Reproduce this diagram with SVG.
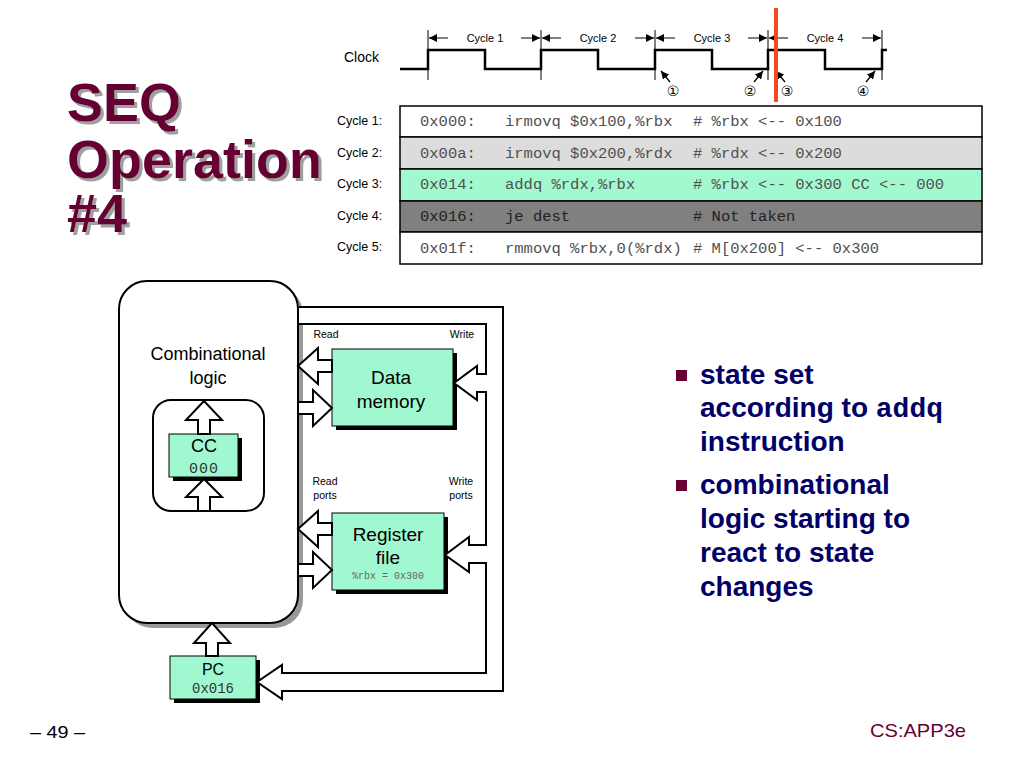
<svg xmlns="http://www.w3.org/2000/svg" width="1024" height="767" viewBox="0 0 1024 767">
<style>
.sans{font-family:"Liberation Sans",Arial,sans-serif}
.mono{font-family:"Liberation Mono","Courier New",monospace}
.title{font-family:"Liberation Sans",Arial,sans-serif;font-weight:bold;font-size:54px;fill:#660033}
.cyc{font-family:"Liberation Sans",Arial,sans-serif;font-size:11px;fill:#000}
.rowlbl{font-family:"Liberation Sans",Arial,sans-serif;font-size:12.5px;fill:#000}
.code{font-family:"Liberation Mono","Courier New",monospace;font-size:15.5px;fill:#505050}
.blk{fill:#fff;stroke:#000;stroke-width:2;stroke-linejoin:miter}
.state{fill:#a0f8d0;stroke:#000;stroke-width:1}
.shadow{fill:#000}
.port{font-family:"Liberation Sans",Arial,sans-serif;font-size:10.5px;fill:#000}
.bullet{font-family:"Liberation Sans",Arial,sans-serif;font-weight:bold;font-size:28px;fill:#000066}
.bmono{font-family:"Liberation Mono","Courier New",monospace;font-weight:bold;font-size:28px}
</style>
<defs>
<marker id="ah" viewBox="0 0 10 10" refX="10" refY="5" markerWidth="8" markerHeight="8" markerUnits="userSpaceOnUse" orient="auto">
<path d="M0,0 L10,5 L0,10 z" fill="#000"/>
</marker>
<filter id="tshadow" x="-5%" y="-5%" width="115%" height="115%">
<feOffset in="SourceAlpha" dx="3" dy="3" result="off"/>
<feFlood flood-color="#a0a0a0"/>
<feComposite in2="off" operator="in" result="sh"/>
<feMerge><feMergeNode in="sh"/><feMergeNode in="SourceGraphic"/></feMerge>
</filter>
</defs>
<rect width="1024" height="767" fill="#fff"/>

<!-- Title -->
<g id="title" filter="url(#tshadow)">
<text class="title"><tspan x="67" y="121">SEQ</tspan><tspan x="67" y="178">Operation</tspan><tspan x="67" y="232">#4</tspan></text>
</g>

<!-- Clock -->
<g id="clock">
<text x="344" y="62" class="sans" font-size="14">Clock</text>
<g stroke="#000" stroke-width="1">
<line x1="428" y1="30" x2="428" y2="80"/>
<line x1="541" y1="30" x2="541" y2="80"/>
<line x1="655" y1="30" x2="655" y2="80"/>
<line x1="768" y1="30" x2="768" y2="80"/>
<line x1="882" y1="30" x2="882" y2="80"/>
<line x1="448" y1="38" x2="429" y2="38" marker-end="url(#ah)"/>
<line x1="521" y1="38" x2="540" y2="38" marker-end="url(#ah)"/>
<line x1="561" y1="38" x2="542" y2="38" marker-end="url(#ah)"/>
<line x1="635" y1="38" x2="654" y2="38" marker-end="url(#ah)"/>
<line x1="675" y1="38" x2="656" y2="38" marker-end="url(#ah)"/>
<line x1="748" y1="38" x2="767" y2="38" marker-end="url(#ah)"/>
<line x1="788" y1="38" x2="769" y2="38" marker-end="url(#ah)"/>
<line x1="862" y1="38" x2="881" y2="38" marker-end="url(#ah)"/>
</g>
<text x="485" y="42" class="cyc" text-anchor="middle">Cycle 1</text>
<text x="598" y="42" class="cyc" text-anchor="middle">Cycle 2</text>
<text x="712" y="42" class="cyc" text-anchor="middle">Cycle 3</text>
<text x="825" y="42" class="cyc" text-anchor="middle">Cycle 4</text>
<polyline fill="none" stroke="#000" stroke-width="2.5" points="400,69 428,69 428,50 485,50 485,69 541,69 541,50 598,50 598,69 655,69 655,50 712,50 712,69 768,69 768,50 825,50 825,69 882,69 882,50 887,50"/>
<g stroke="#000" stroke-width="1.3">
<line x1="670" y1="82" x2="661" y2="71" marker-end="url(#ah)"/>
<line x1="754" y1="82" x2="763" y2="71" marker-end="url(#ah)"/>
<line x1="785" y1="82" x2="776" y2="71" marker-end="url(#ah)"/>
<line x1="866" y1="82" x2="875" y2="71" marker-end="url(#ah)"/>
</g>
<g font-family="'DejaVu Sans',sans-serif" font-size="14" text-anchor="middle" fill="#000">
<text x="673" y="96">①</text>
<text x="750" y="96">②</text>
<text x="787" y="96">③</text>
<text x="863" y="96">④</text>
</g>
<rect x="774" y="8" width="4" height="94" fill="#f2481e"/>
</g>

<!-- Instruction table -->
<g id="table">
<rect x="400" y="106" width="582" height="31" fill="#fff" stroke="#000" stroke-width="1.5"/>
<rect x="400" y="137" width="582" height="32" fill="#dcdcdc" stroke="#000" stroke-width="1.5"/>
<rect x="400" y="169" width="582" height="32" fill="#a3f9cf" stroke="#000" stroke-width="1.5"/>
<rect x="400" y="201" width="582" height="31" fill="#808080" stroke="#000" stroke-width="1.5"/>
<rect x="400" y="232" width="582" height="32" fill="#fff" stroke="#000" stroke-width="1.5"/>
<text x="337" y="125" class="rowlbl">Cycle 1:</text>
<text x="337" y="157" class="rowlbl">Cycle 2:</text>
<text x="337" y="188" class="rowlbl">Cycle 3:</text>
<text x="337" y="220" class="rowlbl">Cycle 4:</text>
<text x="337" y="251" class="rowlbl">Cycle 5:</text>
<g class="code">
<text x="420" y="126">0x000:</text><text x="505" y="126">irmovq $0x100,%rbx</text><text x="693" y="126"># %rbx &lt;-- 0x100</text>
<text x="420" y="158">0x00a:</text><text x="505" y="158">irmovq $0x200,%rdx</text><text x="693" y="158"># %rdx &lt;-- 0x200</text>
<text x="420" y="189">0x014:</text><text x="505" y="189">addq %rdx,%rbx</text><text x="693" y="189"># %rbx &lt;-- 0x300 CC &lt;-- 000</text>
<text x="420" y="221" fill="#222">0x016:</text><text x="505" y="221" fill="#222">je dest</text><text x="693" y="221" fill="#222"># Not taken</text>
<text x="420" y="253">0x01f:</text><text x="505" y="253">rmmovq %rbx,0(%rdx)</text><text x="693" y="253"># M[0x200] &lt;-- 0x300</text>
</g>
</g>

<!-- Combinational logic -->
<g id="comb">
<rect x="124" y="286" width="179" height="342" rx="28" fill="#999"/>
<rect x="119" y="281" width="179" height="342" rx="28" fill="#fff" stroke="#000" stroke-width="2"/>
<text x="208" y="360" class="sans" font-size="18" text-anchor="middle">Combinational</text>
<text x="208" y="384" class="sans" font-size="18" text-anchor="middle">logic</text>
<rect x="153" y="400" width="111" height="111" rx="18" fill="#fff" stroke="#000" stroke-width="2"/>
</g>

<!-- CC -->
<g id="cc">
<rect x="173" y="438" width="69" height="43" class="shadow"/>
<rect x="169" y="434" width="69" height="43" class="state"/>
<text x="204" y="452" class="sans" font-size="18" text-anchor="middle">CC</text>
<text x="204" y="473" class="mono" font-size="15" fill="#333" text-anchor="middle" letter-spacing="1">000</text>
</g>

<!-- Data memory -->
<g id="dmem">
<rect x="336" y="353" width="121" height="77" class="shadow"/>
<rect x="332" y="349" width="121" height="77" class="state"/>
<text x="391" y="384" class="sans" font-size="19" text-anchor="middle">Data</text>
<text x="391" y="408" class="sans" font-size="19" text-anchor="middle">memory</text>
<text x="326" y="338" class="port" text-anchor="middle">Read</text>
<text x="462" y="338" class="port" text-anchor="middle">Write</text>
</g>

<!-- Register file -->
<g id="regfile">
<rect x="336" y="517" width="112" height="77" class="shadow"/>
<rect x="332" y="513" width="112" height="77" class="state"/>
<text x="388" y="541" class="sans" font-size="19" text-anchor="middle">Register</text>
<text x="388" y="564" class="sans" font-size="19" text-anchor="middle">file</text>
<text x="388" y="579" class="mono" font-size="10" fill="#666" text-anchor="middle">%rbx = 0x300</text>
<text x="325" y="485" class="port" text-anchor="middle">Read</text>
<text x="325" y="499" class="port" text-anchor="middle">ports</text>
<text x="461" y="485" class="port" text-anchor="middle">Write</text>
<text x="461" y="499" class="port" text-anchor="middle">ports</text>
</g>

<!-- PC -->
<g id="pc">
<rect x="174" y="660" width="86" height="43" class="shadow"/>
<rect x="170" y="656" width="86" height="43" class="state"/>
<text x="213" y="675" class="sans" font-size="16" text-anchor="middle">PC</text>
<text x="213" y="693" class="mono" font-size="14" fill="#333" text-anchor="middle">0x016</text>
</g>

<!-- Connectors (block arrows) -->
<g id="connectors">
<polygon class="blk" points="198,434 198,420 186,420 204,401 222,420 210,420 210,434"/>
<polygon class="blk" points="198,511 198,497 186,497 204,479 222,497 210,497 210,511"/>
<polygon class="blk" points="332,360 318,360 318,348 298,366 318,384 318,372 332,372"/>
<polygon class="blk" points="298,402 313,402 313,390 332,408 313,426 313,414 298,414"/>
<polygon class="blk" points="332,523 318,523 318,511 298,529 318,547 318,535 332,535"/>
<polygon class="blk" points="298,564 313,564 313,552 332,570 313,588 313,576 298,576"/>
<polygon class="blk" points="206,656 206,643 194,643 212,623 230,643 218,643 218,656"/>
<path class="blk" d="M299,324 L486,324 L486,374 L477,374 L477,366 L454,383 L477,400 L477,392 L486,392 L486,545 L469,545 L469,537 L445,555 L469,572 L469,563 L486,563 L486,673 L282,673 L282,665 L257,682 L282,699 L282,691 L503,691 L503,307 L299,307"/>
</g>

<!-- Bullets -->
<g id="bullets">
<rect x="676" y="370" width="11" height="11" fill="#660033"/>
<rect x="676" y="480" width="11" height="11" fill="#660033"/>
<text class="bullet" x="700" y="384">state set</text>
<text class="bullet" x="700" y="417">according to <tspan class="bmono">addq</tspan></text>
<text class="bullet" x="700" y="451">instruction</text>
<text class="bullet" x="700" y="494">combinational</text>
<text class="bullet" x="700" y="528">logic starting to</text>
<text class="bullet" x="700" y="562">react to state</text>
<text class="bullet" x="700" y="596">changes</text>
</g>

<!-- Footer -->
<g id="footer">
<text x="30" y="738" class="sans" font-size="17" textLength="55" lengthAdjust="spacingAndGlyphs">– 49 –</text>
<text x="870" y="737" class="sans" font-size="19" fill="#660033" textLength="96" lengthAdjust="spacingAndGlyphs">CS:APP3e</text>
</g>
</svg>
